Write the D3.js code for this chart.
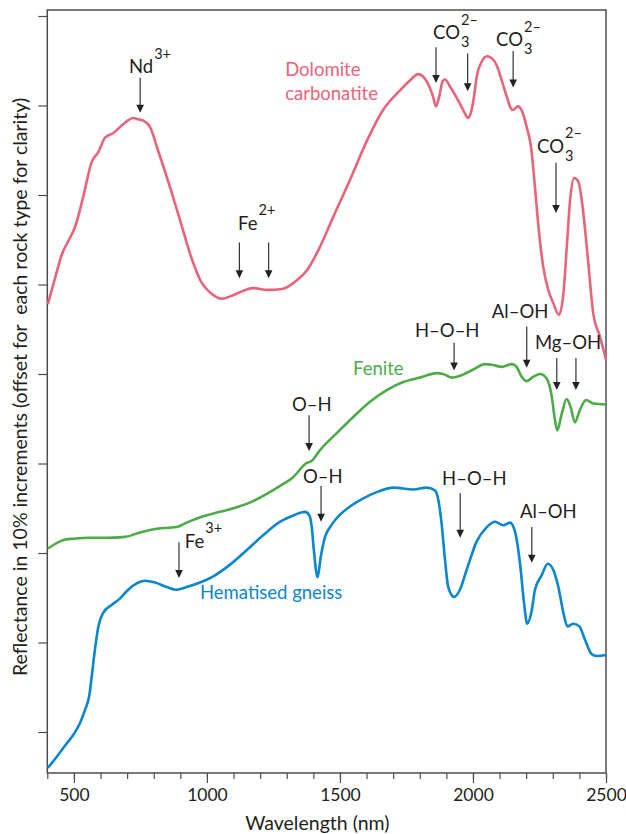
<!DOCTYPE html>
<html>
<head>
<meta charset="utf-8">
<script src="https://cdn.jsdelivr.net/npm/d3@7"></script>
<style>
  body { margin: 0; background: #fff; }
  text { font-family: Lato, "Open Sans", sans-serif; }
</style>
</head>
<body>
<script>
// ---- data: wavelength (nm) and reflectance (%, offset per rock) ----
const dolomiteNm = [402,429,454,485,504,535,567,592,617,647,685,723,736,761,786,816,861,899,936,980,
  1012,1056,1098,1173,1226,1282,1339,1376,1425,1474,1538,1602,1662,1726,1763,1795,1826,1850,1861,1873,
  1886,1895,1914,1951,1970,1980,1991,2004,2014,2033,2052,2070,2089,2108,2127,2142,2150,2169,2184,2202,
  2218,2233,2246,2264,2283,2302,2323,2340,2352,2365,2380,2396,2412,2430,2452,2477,2500];
const dolomiteR = [47.8,50.7,53.3,55.2,56.4,59.8,63.7,64.8,66.4,66.9,67.9,68.6,68.5,68.3,67.6,65.0,60.9,57.2,53.5,50.2,
  49.1,48.4,48.8,49.6,49.4,49.5,50.5,51.6,54.2,57.5,61.7,66.1,69.5,71.7,72.8,73.5,72.7,71.0,69.9,71.0,
  72.7,72.9,72.1,70.2,69.1,68.6,69.1,71.0,73.2,74.9,75.5,75.3,74.5,72.8,71.0,69.7,69.5,69.9,69.4,67.6,
  65.4,60.9,56.5,52.0,49.4,47.9,46.6,49.0,53.9,59.4,61.9,61.5,58.7,53.5,46.8,44.2,41.6];

const feniteNm = [402,435,467,498,560,623,692,748,811,886,924,986,1049,1112,1174,1225,1275,1325,1372,1394,
  1425,1488,1550,1613,1676,1738,1801,1864,1888,1920,1951,2001,2045,2076,2108,2146,2164,2183,2202,2227,
  2252,2277,2296,2308,2317,2334,2352,2367,2383,2402,2425,2452,2500];
const feniteR = [20.5,21.1,21.5,21.6,21.7,21.7,21.8,22.3,22.7,22.9,23.4,24.1,24.6,25.1,25.8,26.6,27.5,28.5,30.0,30.3,
  31.5,33.4,35.2,36.9,38.2,39.1,39.6,40.1,40.0,39.6,39.8,40.5,41.1,41.0,40.8,41.1,40.8,39.7,39.2,39.7,
  40.0,39.5,37.5,34.9,33.7,35.6,37.2,36.3,34.6,36.0,37.1,36.7,36.6];

const gneissNm = [402,435,467,498,523,542,558,567,579,592,610,642,673,704,736,767,805,849,886,924,
  974,1024,1087,1149,1212,1275,1325,1369,1385,1394,1402,1416,1428,1444,1463,1488,1538,1588,1638,1701,
  1776,1826,1857,1870,1882,1895,1907,1929,1951,1976,2014,2052,2083,2114,2139,2158,2177,2192,2204,2221,
  2233,2258,2281,2302,2321,2340,2355,2377,2400,2421,2446,2465,2500];
const gneissR = [-4.0,-2.8,-1.5,-0.3,1.0,2.5,4.1,6.2,9.2,11.8,13.3,14.2,14.9,15.9,16.6,16.9,16.7,16.2,15.9,16.2,
  16.7,17.4,18.7,20.3,22.0,23.5,24.2,24.6,24.2,22.9,20.3,17.3,19.6,21.8,22.9,23.9,25.2,26.1,26.8,27.3,
  27.1,27.3,27.0,25.9,23.3,19.2,16.2,15.1,15.9,18.1,21.3,22.9,23.5,23.1,23.4,22.4,18.8,14.4,12.1,13.6,
  15.9,17.5,18.8,18.1,16.2,13.3,11.8,12.1,11.8,10.3,8.7,8.5,8.6];

const xTicksMajor = [500, 1000, 1500, 2000, 2500];
const yTicks = [0, 10, 20, 30, 40, 50, 60, 70, 80];

// absorption features: text anchor and arrows (nm, reflectance from, reflectance to)
const features = [
  {text: "Nd", sup: "3+", nm: 707, r: 73.6, arrows: [[749, 73.1, 69.2]]},
  {text: "Fe", sup: "2+", nm: 1117, r: 56.1, arrows: [[1122, 54.7, 50.7], [1232, 54.7, 50.7]]},
  {text: "CO", sup: "2–", sub: "3", nm: 1850, r: 77.4, arrows: [[1861, 76.5, 72.5], [1980, 75.8, 71.6]]},
  {text: "CO", sup: "2–", sub: "3", nm: 2087, r: 76.6, arrows: [[2151, 76.1, 72.0]]},
  {text: "CO", sup: "2–", sub: "3", nm: 2241, r: 64.7, arrows: [[2312, 63.6, 58.0]]},
  {text: "H–O–H", nm: 1782, r: 44.1, arrows: [[1929, 43.5, 40.4]]},
  {text: "Al–OH", nm: 2071, r: 46.3, arrows: [[2202, 45.3, 40.7]]},
  {text: "Mg–OH", nm: 2233, r: 42.8, arrows: [[2315, 41.8, 38.2], [2387, 41.8, 38.2]]},
  {text: "O–H", nm: 1320, r: 35.9, arrows: [[1384, 35.4, 31.4]]},
  {text: "O–H", nm: 1361, r: 27.8, arrows: [[1429, 27.5, 23.5]]},
  {text: "H–O–H", nm: 1884, r: 27.6, arrows: [[1952, 26.7, 21.7]]},
  {text: "Al–OH", nm: 2177, r: 23.9, arrows: [[2221, 22.9, 18.9]]},
  {text: "Fe", sup: "3+", nm: 917, r: 20.6, arrows: [[895, 21.2, 17.2]]}
];

// ---- chart setup ----
const W = 626, H = 834;
const margin = {top: 10, right: 20, bottom: 61, left: 47.3};
const width = W - margin.left - margin.right,
      height = H - margin.top - margin.bottom;

const x = d3.scaleLinear().domain([400, 2500]).range([0, width]);
const y = d3.scaleLinear().domain([-4.58, 80.67]).range([height, 0]);

const svg = d3.select("body").append("svg")
    .attr("width", W)
    .attr("height", H);
const g = svg.append("g")
    .attr("transform", "translate(" + margin.left + "," + margin.top + ")");

const axisColor = "#4d4d4f";
const inkColor = "#231f20";
const labelSize = 18.5, supSize = 14.5;

// axes
const xMinor = g.append("g")
    .attr("transform", "translate(0," + height + ")")
    .call(d3.axisBottom(x).tickValues(d3.range(400, 2501, 100)).tickSize(6).tickFormat(""));
const xMajor = g.append("g")
    .attr("transform", "translate(0," + height + ")")
    .call(d3.axisBottom(x).tickValues(xTicksMajor).tickSize(10).tickPadding(6).tickFormat(d3.format("d")));
const yAxis = g.append("g")
    .call(d3.axisLeft(y).tickValues(yTicks).tickSize(9).tickFormat(""));

[xMinor, xMajor, yAxis].forEach(a => {
  a.select(".domain").remove();
  a.selectAll("line").attr("stroke", axisColor).attr("stroke-width", 1.2);
});
xMajor.selectAll("text")
    .attr("font-size", 17.5)
    .attr("fill", inkColor)
    .style("font-family", "Lato, sans-serif");

// frame
g.append("rect")
    .attr("width", width)
    .attr("height", height)
    .attr("fill", "none")
    .attr("stroke", axisColor)
    .attr("stroke-width", 1.5);

// axis titles
svg.append("text")
    .attr("x", margin.left + x(1415))
    .attr("y", 830)
    .attr("text-anchor", "middle")
    .attr("font-size", 19.5)
    .attr("fill", inkColor)
    .text("Wavelength (nm)");

svg.append("text")
    .attr("transform", "translate(27," + 387 + ") rotate(-90)")
    .attr("text-anchor", "middle")
    .attr("font-size", 19.5)
    .attr("fill", inkColor)
    .style("white-space", "pre")
    .text("Reflectance in 10% increments (offset for  each rock type for clarity)");

// spectra
const series = [
  {nm: dolomiteNm, r: dolomiteR, color: "#e9637a"},
  {nm: feniteNm, r: feniteR, color: "#4dab47"},
  {nm: gneissNm, r: gneissR, color: "#0a86cc"}
];

const line = d3.line()
    .x(d => x(d[0]))
    .y(d => y(d[1]))
    .curve(d3.curveMonotoneX);

series.forEach(s => {
  g.append("path")
      .datum(s.nm.map((n, i) => [n, s.r[i]]))
      .attr("fill", "none")
      .attr("stroke", s.color)
      .attr("stroke-width", 2.6)
      .attr("stroke-linejoin", "round")
      .attr("d", line);
});

// series labels
g.append("text").attr("x", x(1294)).attr("y", y(73.3))
    .attr("font-size", labelSize).attr("fill", "#e9637a").text("Dolomite");
g.append("text").attr("x", x(1294)).attr("y", y(70.6))
    .attr("font-size", labelSize).attr("fill", "#e9637a").text("carbonatite");
g.append("text").attr("x", x(1549)).attr("y", y(39.9))
    .attr("font-size", labelSize).attr("fill", "#4dab47").text("Fenite");
g.append("text").attr("x", x(974)).attr("y", y(14.9))
    .attr("font-size", labelSize).attr("fill", "#0a86cc").text("Hematised gneiss");

// feature labels and arrows
features.forEach(f => {
  const t = g.append("text")
      .attr("x", x(f.nm))
      .attr("y", y(f.r))
      .attr("font-size", labelSize)
      .attr("fill", inkColor)
      .text(f.text);
  const x0 = x(f.nm) + t.node().getComputedTextLength() + 1;
  if (f.sub) {
    g.append("text").attr("x", x0).attr("y", y(f.r) + 8)
        .attr("font-size", supSize).attr("fill", inkColor).text(f.sub);
  }
  if (f.sup) {
    g.append("text").attr("x", x0).attr("y", y(f.r) - 14.5)
        .attr("font-size", supSize).attr("fill", inkColor).text(f.sup);
  }
  f.arrows.forEach(a => {
    const ax = x(a[0]), y0 = y(a[1]), y1 = y(a[2]);
    g.append("line")
        .attr("x1", ax).attr("x2", ax)
        .attr("y1", y0).attr("y2", y1 - 6)
        .attr("stroke", "#333").attr("stroke-width", 1.2);
    g.append("path")
        .attr("d", "M" + (ax - 3.8) + "," + (y1 - 8) + "L" + (ax + 3.8) + "," + (y1 - 8) + "L" + ax + "," + y1 + "Z")
        .attr("fill", "#222");
  });
});
</script>
</body>
</html>
